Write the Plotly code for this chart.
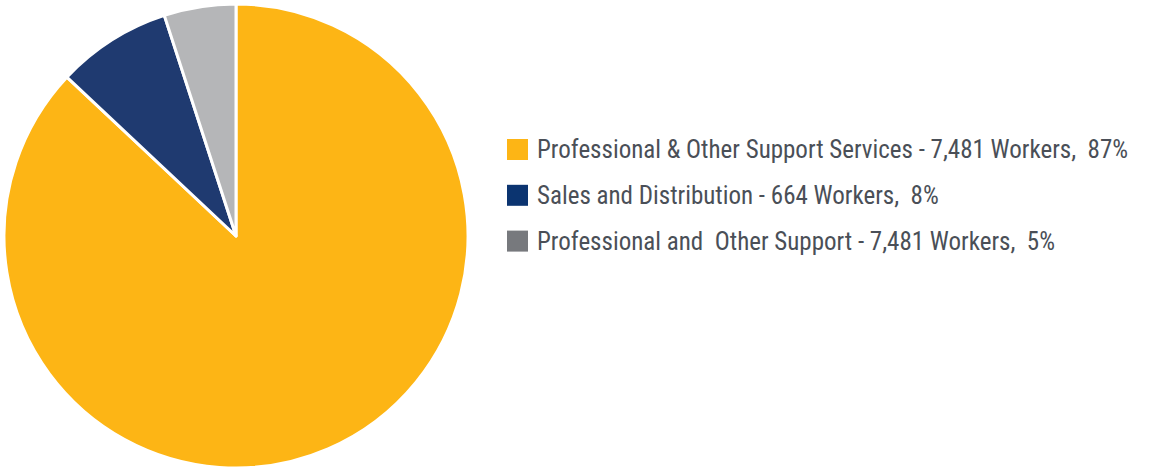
import plotly.graph_objects as go

# Workforce breakdown
categories = [
    "Professional & Other Support Services",
    "Sales and Distribution",
    "Professional and  Other Support",
]
workers = ["7,481", "664", "7,481"]
shares = [87, 8, 5]

slice_colors = ["#FDB515", "#1F3A70", "#B5B6B8"]
legend_colors = ["#FDB515", "#0B3470", "#77797D"]

FONT = "Roboto Condensed, Liberation Sans Narrow, sans-serif"
TEXT_COLOR = "#4A4F57"

W, H = 1150, 470

fig = go.Figure()

fig.add_trace(go.Pie(
    values=shares,
    labels=categories,
    sort=False,
    direction="clockwise",
    rotation=0,
    textinfo="none",
    hoverinfo="label+percent",
    marker=dict(colors=slice_colors, line=dict(color="white", width=3)),
    showlegend=False,
    domain=dict(x=[4 / W, 468 / W], y=[2 / H, 466 / H]),
))

# Hand-laid legend: square swatch plus label per category
legend_left_px = 507
swatch_px = 21
text_left_px = 535
row_top_px = 149.5
row_gap_px = 45.8

for i, (cat, w, s) in enumerate(zip(categories, workers, shares)):
    cy = row_top_px + i * row_gap_px
    fig.add_shape(
        type="rect", xref="paper", yref="paper",
        x0=legend_left_px / W, x1=(legend_left_px + swatch_px) / W,
        y0=1 - (cy - swatch_px / 2) / H, y1=1 - (cy + swatch_px / 2) / H,
        fillcolor=legend_colors[i], line=dict(width=0),
    )
    fig.add_annotation(
        x=text_left_px / W, y=1 - cy / H, xref="paper", yref="paper",
        xanchor="left", yanchor="middle", showarrow=False,
        text=f"{cat} - {w} Workers,  {s}%",
        font=dict(family=FONT, size=25, color=TEXT_COLOR),
    )

fig.update_layout(
    width=W, height=H,
    margin=dict(l=0, r=0, t=0, b=0),
    paper_bgcolor="white",
    plot_bgcolor="white",
    showlegend=False,
)

fig.write_html("out.html")
